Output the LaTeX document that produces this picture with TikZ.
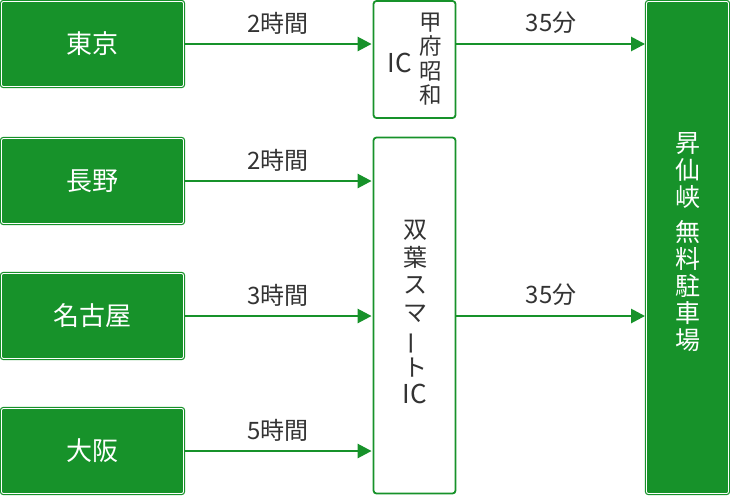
\documentclass[tikz,border=0pt]{standalone}
\usepackage{fontspec}
\setmainfont{Noto Sans CJK JP}
\usetikzlibrary{arrows.meta}
\definecolor{gr}{HTML}{17922A}
\definecolor{txt}{HTML}{333333}
\tikzset{
  gbox/.style={rectangle, rounded corners=2pt, fill=gr, draw=white, line width=0.9pt,
    preaction={draw=gr, line width=3.2pt}, text=white, font=\fontsize{26pt}{30pt}\selectfont,
    inner sep=0pt},
  wbox/.style={rectangle, rounded corners=3pt, fill=white, draw=gr, line width=1.8pt, inner sep=0pt},
  arr/.style={draw=gr, line width=2.6pt, -{Triangle[length=14pt,width=14pt]}, shorten >=1pt},
  lbl/.style={text=txt, font=\fontsize{24pt}{28pt}\selectfont, inner sep=0pt, anchor=center, yshift=21pt},
  vtext/.style={text=txt, align=center, inner sep=0pt, font=\fontsize{24pt}{27.5pt}\selectfont},
}
\begin{document}
\begin{tikzpicture}[x=1pt,y=-1pt]
\useasboundingbox (0,0) rectangle (730,496);
% sources
\node[gbox, minimum width=182pt, minimum height=85pt] (tokyo) at (92.5,44) {東京};
\node[gbox, minimum width=182pt, minimum height=85pt] (nagano) at (92.5,181) {長野};
\node[gbox, minimum width=182pt, minimum height=85pt] (nagoya) at (92.5,316) {名古屋};
\node[gbox, minimum width=182pt, minimum height=85pt] (osaka) at (92.5,451) {大阪};
% ICs
\node[wbox, minimum width=82pt, minimum height=117pt] (kofu) at (414.5,59.5) {};
\node[vtext, font=\fontsize{22.5pt}{24.5pt}\selectfont] (kofut) at (431,59) {甲\\府\\昭\\和};
\node[text=txt, font=\fontsize{26pt}{30pt}\selectfont, inner sep=0pt] (kofuic) at (399.5,63) {IC};
\node[wbox, minimum width=82pt, minimum height=356pt] (futaba) at (414.5,315.5) {};
\node[vtext] (futabat) at (415,312) {双\\葉\\ス\\マ\\\rotatebox[origin=c]{90}{ー}\\ト\\{\fontsize{26pt}{27.5pt}\selectfont IC}};
% destination
\node[gbox, minimum width=82pt, minimum height=492pt] (dest) at (687.5,247.5) {};
\node[vtext, text=white, font=\fontsize{25pt}{27pt}\selectfont] (destt) at (688,242) {昇\\仙\\峡\\[8pt]無\\料\\駐\\車\\場};
% arrows
\draw[arr] (tokyo.east) -- (tokyo.east -| kofu.west) node[lbl, midway] (l1) {2時間};
\draw[arr] (nagano.east) -- (nagano.east -| futaba.west) node[lbl, midway] (l2) {2時間};
\draw[arr] (nagoya.east) -- (nagoya.east -| futaba.west) node[lbl, midway] (l3) {3時間};
\draw[arr] (osaka.east) -- (osaka.east -| futaba.west) node[lbl, midway] (l4) {5時間};
\draw[arr] (tokyo.east -| kofu.east) -- (tokyo.east -| dest.west) node[lbl, midway] (l5) {35分};
\draw[arr] (nagoya.east -| futaba.east) -- (nagoya.east -| dest.west) node[lbl, midway] (l6) {35分};
\end{tikzpicture}
\end{document}
